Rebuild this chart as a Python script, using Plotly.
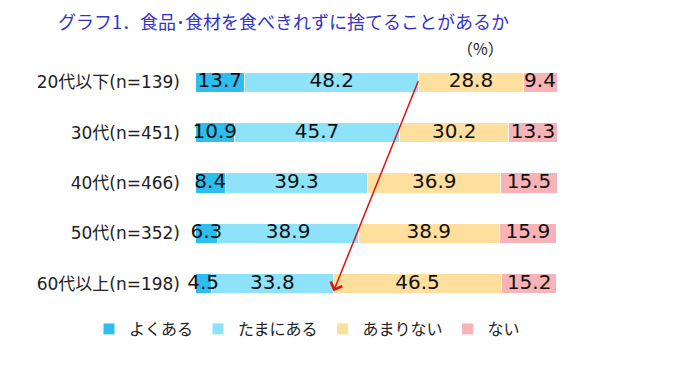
import plotly.graph_objects as go

categories = ["20代以下(n=139)", "30代(n=451)", "40代(n=466)", "50代(n=352)", "60代以上(n=198)"]
series_names = ["よくある", "たまにある", "あまりない", "ない"]
yoku_aru = [13.7, 10.9, 8.4, 6.3, 4.5]
tamani_aru = [48.2, 45.7, 39.3, 38.9, 33.8]
amari_nai = [28.8, 30.2, 36.9, 38.9, 46.5]
nai = [9.4, 13.3, 15.5, 15.9, 15.2]
colors = ["#2DBDEE", "#8EE2F9", "#FEDF9E", "#F8B3B6"]

FONT = "DejaVu Sans, Noto Sans CJK JP"
CJK = "Noto Sans CJK JP"
W, H = 667, 358          # page body has an 8px margin
L, T, PW, PH = 187, 49, 362, 252

fig = go.Figure()
all_series = [yoku_aru, tamani_aru, amari_nai, nai]
for name, vals, col in zip(series_names, all_series, colors):
    fig.add_trace(go.Bar(
        y=categories, x=vals, name=name, orientation="h",
        marker=dict(color=col, line=dict(color="white", width=1)),
        width=0.4, hoverinfo="x+name",
    ))

# value labels centred on each segment (may overflow small segments, as in the original)
base = [0.0] * len(categories)
for vals in all_series:
    mids = [b + v / 2 for b, v in zip(base, vals)]
    fig.add_trace(go.Scatter(
        y=categories, x=mids, mode="text", text=[f"{v:.1f}" for v in vals],
        textposition="middle center", textfont=dict(size=20, color="#111", family=FONT),
        showlegend=False, hoverinfo="skip", cliponaxis=False,
    ))
    base = [b + v for b, v in zip(base, vals)]

# arrow between ends of たまにある segments (first and last rows)
x_start = yoku_aru[0] + tamani_aru[0]
x_end = yoku_aru[-1] + tamani_aru[-1]
fig.add_annotation(
    x=x_end, y=4.15, ax=x_start, ay=-0.05, xref="x", yref="y", axref="x", ayref="y",
    showarrow=True, arrowhead=4, arrowsize=1.6, arrowwidth=1.5, arrowcolor="#E01010", text="",
)
fig.add_annotation(text="（%）", xref="paper", yref="paper", x=(472 - L) / PW, y=1 + (T - 40) / PH,
                   xanchor="center", yanchor="middle",
                   showarrow=False, font=dict(size=16, color="#222", family=CJK))

fig.update_layout(
    barmode="stack",
    width=W, height=H,
    margin=dict(l=L, r=W - L - PW, t=T, b=H - T - PH, autoexpand=False),
    paper_bgcolor="white", plot_bgcolor="white",
    font=dict(family=FONT, color="#222"),
    title=dict(text="グラフ1．食品･食材を食べきれずに捨てることがあるか",
               x=50 / W, xanchor="left", y=1 - 15 / H, yanchor="middle", pad=dict(l=0, t=0),
               font=dict(size=18, color="#3333CC", family=CJK)),
    xaxis=dict(range=[0, 100.1], visible=False, fixedrange=True),
    yaxis=dict(autorange="reversed", showgrid=False, showline=False, zeroline=False, automargin=False,
               ticks="", ticklabelstandoff=14, tickfont=dict(size=17, color="#222", family=FONT)),
    legend=dict(orientation="h", x=(81 - L) / PW, xanchor="left", y=-20 / PH, yanchor="middle",
                font=dict(size=16, color="#222", family=CJK), traceorder="normal"),
    showlegend=True,
)

fig.write_html("out.html")
